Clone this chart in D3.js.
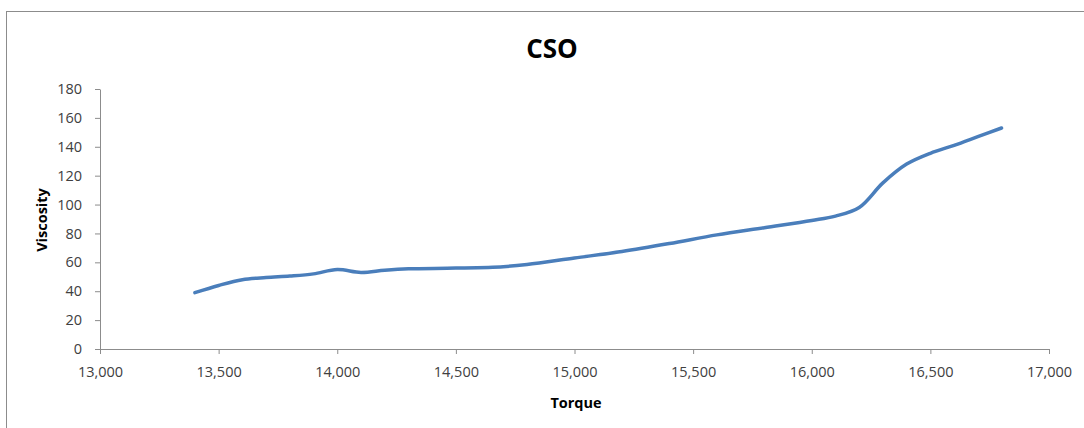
<!DOCTYPE html>
<html>
<head>
<meta charset="utf-8">
<script src="https://cdn.jsdelivr.net/npm/d3@7"></script>
<style>
  body { margin: 0; background: #fff; }
  svg { display: block; }
</style>
</head>
<body>
<div id="chart"></div>
<script>
const torque = [13400, 13500, 13600, 13700, 13800, 13900, 14000, 14100, 14200, 14300,
  14500, 14700, 14800, 15000, 15200, 15400, 15600, 15800, 16000, 16100,
  16200, 16300, 16400, 16500, 16600, 16700, 16800]
const viscosity = [39, 44, 48, 49.5, 50.5, 52, 55, 53, 54.5, 55.5,
  56, 57, 58.5, 63, 67.5, 73, 79, 84, 89, 92,
  98, 115, 128, 135.5, 141, 147, 153]
const xTicks = [13000, 13500, 14000, 14500, 15000, 15500, 16000, 16500, 17000]
const yTicks = [0, 20, 40, 60, 80, 100, 120, 140, 160, 180]

const W = 1084, H = 428
const margin = { top: 89, left: 100, right: 35, bottom: 79 }
const width = W - margin.left - margin.right
const height = H - margin.top - margin.bottom

const canvas = d3.select('#chart').append('svg')
  .attr('width', W)
  .attr('height', H)

// chart frame
canvas.append('rect')
  .attr('x', 6.5).attr('y', 11.5)
  .attr('width', W + 10).attr('height', H + 10)
  .attr('fill', 'none')
  .attr('stroke', '#8c8c8c')
  .attr('stroke-width', 1)

const svg = canvas.append('g')
  .attr('transform', 'translate(' + margin.left + ',' + margin.top + ')')

const x = d3.scaleLinear().domain([13000, 17000]).range([0, width])
const y = d3.scaleLinear().domain([0, 180]).range([height, 0])

const fmt = d3.format(',')
const font = "'Open Sans', 'Liberation Sans', sans-serif"

const xAxis = svg.append('g')
  .attr('transform', 'translate(0,' + height + ')')
  .call(d3.axisBottom(x).tickValues(xTicks).tickFormat(fmt).tickSizeOuter(0).tickSizeInner(5).tickPadding(13))

const yAxis = svg.append('g')
  .call(d3.axisLeft(y).tickValues(yTicks).tickSizeOuter(0).tickSizeInner(5).tickPadding(13))

;[xAxis, yAxis].forEach(a => {
  a.select('.domain').attr('stroke', '#8c8c8c')
  a.selectAll('.tick line').attr('stroke', '#8c8c8c')
  a.selectAll('.tick text')
    .attr('fill', '#404040')
    .style('font-family', font)
    .style('font-size', '14.5px')
})

const line = d3.line()
  .x((d, i) => x(torque[i]))
  .y(d => y(d))
  .curve(d3.curveCatmullRom.alpha(0.5))

svg.append('path')
  .datum(viscosity)
  .attr('d', line)
  .attr('fill', 'none')
  .attr('stroke', '#4a7ebb')
  .attr('stroke-width', 3.5)
  .attr('stroke-linecap', 'round')

canvas.append('text')
  .attr('x', 552).attr('y', 58)
  .attr('text-anchor', 'middle')
  .style('font-family', font)
  .style('font-weight', 'bold')
  .style('font-size', '26px')
  .attr('fill', '#000')
  .text('CSO')

canvas.append('text')
  .attr('x', 576).attr('y', 408)
  .attr('text-anchor', 'middle')
  .style('font-family', font)
  .style('font-weight', 'bold')
  .style('font-size', '14.5px')
  .attr('fill', '#000')
  .text('Torque')

canvas.append('text')
  .attr('transform', 'translate(47,220) rotate(-90)')
  .attr('text-anchor', 'middle')
  .style('font-family', font)
  .style('font-weight', 'bold')
  .style('font-size', '14.5px')
  .attr('fill', '#000')
  .text('Viscosity')
</script>
</body>
</html>
